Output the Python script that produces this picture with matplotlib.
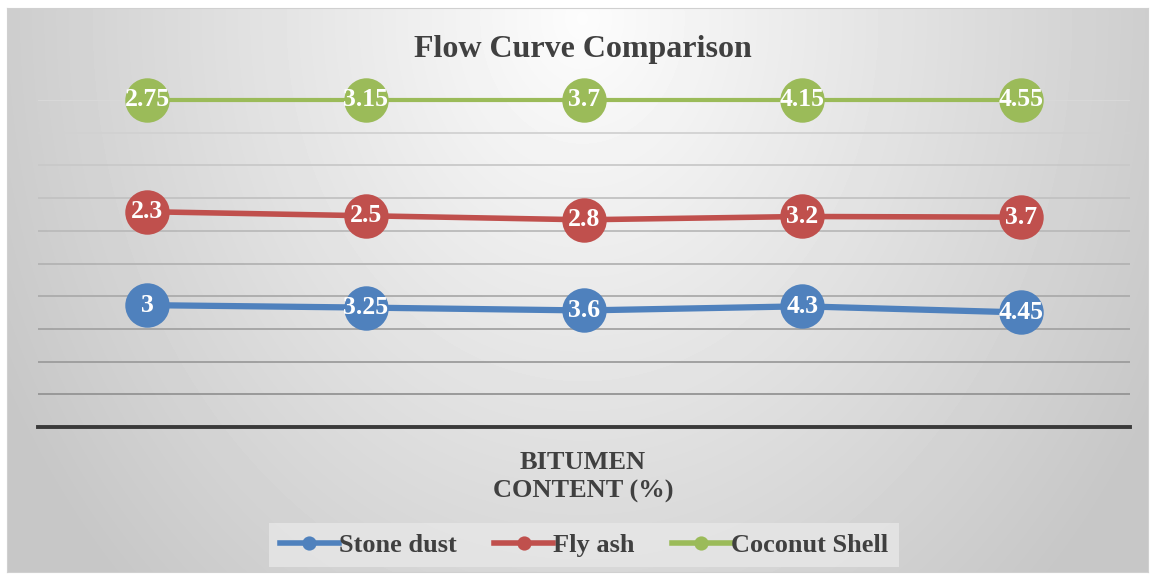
import numpy as np
import matplotlib.pyplot as plt

# values for each bitumen content step
stone_dust = [3, 3.25, 3.6, 4.3, 4.45]
fly_ash = [2.3, 2.5, 2.8, 3.2, 3.7]
coconut_shell = [2.75, 3.15, 3.7, 4.15, 4.55]
series_names = ["Stone dust", "Fly ash", "Coconut Shell"]
series_colors = ["#4f81bd", "#c0504d", "#9bbb59"]

plt.rcParams['font.family'] = ['Liberation Serif', 'DejaVu Serif']

fig = plt.figure(figsize=(11.54, 5.76), dpi=100)
fig.patch.set_facecolor("white")

# background panel with a soft radial gradient
bg = fig.add_axes([7 / 1154, 4 / 576, 1141 / 1154, 564 / 576])
yy, xx = np.mgrid[0:564, 0:1141]
r = np.sqrt(((xx - 575) / 620.0) ** 2 + ((yy - 10) / 760.0) ** 2)
shade = np.clip(0.99 - 0.2 * r, 0.78, 1.0)
bg.imshow(shade, cmap="gray", vmin=0, vmax=1, aspect="auto",
          extent=[0, 1, 0, 1], origin="upper")
bg.set_xticks([])
bg.set_yticks([])
for s in bg.spines.values():
    s.set_color("#d0d0d0")

ax = fig.add_axes([38 / 1154, 1 - 427 / 576, 1092 / 1154, 327 / 576])
ax.set_facecolor("none")

# 100% stacked line chart
data = np.array([stone_dust, fly_ash, coconut_shell], dtype=float)
totals = data.sum(axis=0)
cum = np.cumsum(data, axis=0) / totals
x = np.arange(len(stone_dust))
widths = [4.5, 4, 3]

for gy in np.arange(0.1, 1.01, 0.1):
    c = 0.55 + 0.3 * gy
    ax.axhline(gy, color=(c, c, c), lw=1.3, zorder=1)

for i in range(3):
    ax.plot(x, cum[i], color=series_colors[i], lw=widths[i], marker="o",
            markersize=32, markeredgewidth=0, label=series_names[i],
            clip_on=False, zorder=3)
    for xi, yi, v in zip(x, cum[i], data[i]):
        ax.text(xi, yi, f"{v:g}", ha="center", va="center", color="white",
                fontsize=18.5, fontweight="bold", zorder=4)

ax.axhline(0, color="#3a3a3a", lw=2.8, zorder=2, clip_on=False)
ax.set_xlim(-0.5, 4.5)
ax.set_ylim(0, 1)
ax.set_xticks([])
ax.set_yticks([])
for s in ax.spines.values():
    s.set_visible(False)

fig.text(583 / 1154, 1 - 50 / 576, "Flow Curve Comparison", ha="center",
         va="center", fontsize=23, fontweight="bold", color="#404040")
fig.text(583 / 1154, 1 - 477 / 576, "BITUMEN\nCONTENT (%)", ha="center",
         va="center", fontsize=19, fontweight="bold", color="#404040",
         linespacing=1.3)

handles, labels = ax.get_legend_handles_labels()
leg = fig.legend(handles, labels, loc="center", ncol=3,
                 bbox_to_anchor=(584 / 1154, 1 - 545 / 576),
                 prop={"size": 19, "weight": "bold"}, frameon=True,
                 handlelength=2.25, columnspacing=1.4, handletextpad=0.0,
                 borderpad=0.4, borderaxespad=0, fancybox=False,
                 markerscale=0.32)
leg.get_frame().set_facecolor("#e6e6e6")
leg.get_frame().set_edgecolor("none")
leg.get_frame().set_alpha(0.85)
for t in leg.get_texts():
    t.set_color("#404040")
for h in leg.legend_handles:
    h.set_linewidth(4)

fig.savefig("out.png", dpi=100)
